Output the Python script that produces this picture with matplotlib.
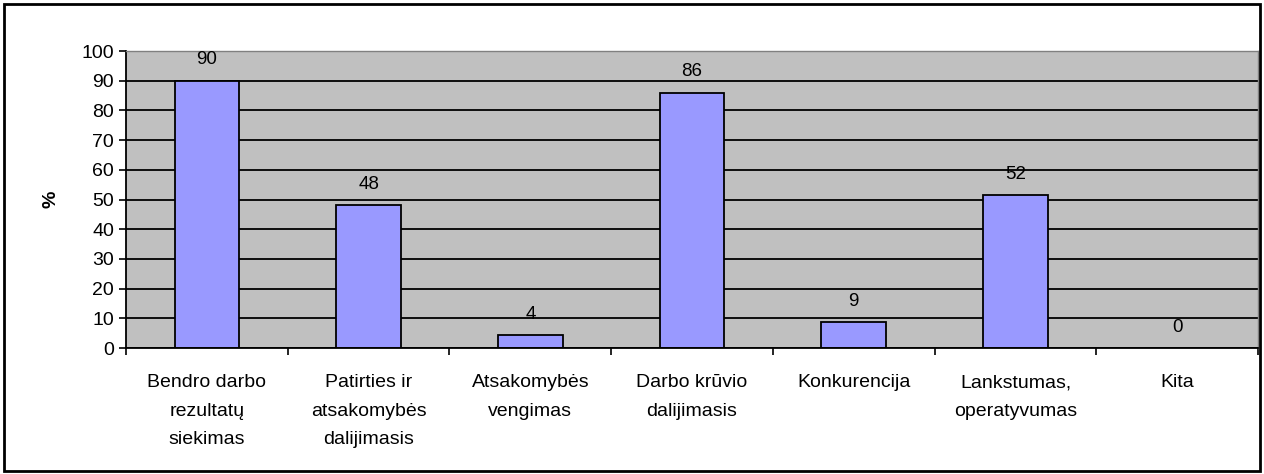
import matplotlib.pyplot as plt
import numpy as np
from matplotlib.patches import Rectangle

plt.rcParams['font.family'] = ['Liberation Sans', 'DejaVu Sans']

# categories and values
categories = ["Bendro darbo\nrezultatų\nsiekimas",
              "Patirties ir\natsakomybės\ndalijimasis",
              "Atsakomybės\nvengimas",
              "Darbo krūvio\ndalijimasis",
              "Konkurencija",
              "Lankstumas,\noperatyvumas",
              "Kita"]
values = [90, 48, 4.4, 86, 8.6, 51.5, 0]
yticks = list(range(0, 101, 10))

fig = plt.figure(figsize=(12.64, 4.74), dpi=100)
ax = fig.add_axes([0.0997, 0.2658, 0.8956, 0.6266])

# outer chart border
fig.add_artist(Rectangle((0.003, 0.006), 0.994, 0.985, transform=fig.transFigure,
                         fill=False, edgecolor='black', linewidth=2))

x = np.arange(len(categories))
ax.set_facecolor('#C0C0C0')
ax.set_axisbelow(True)
ax.yaxis.grid(True, color='black', linewidth=1.3)
bars = ax.bar(x, values, width=0.4, color='#9999FF', edgecolor='black', linewidth=1.3)

# value labels above bars
for xi, v in zip(x, values):
    ax.annotate("%.0f" % v, (xi, v), xytext=(0, 15), textcoords='offset points',
                ha='center', va='center', fontsize=13.5)

ax.set_xlim(-0.5, len(categories) - 0.5)
ax.set_ylim(0, 100)
ax.set_yticks(yticks)
ax.tick_params(axis='y', labelsize=14, length=5, width=1.2, direction='out')

ax.set_xticks(x)
ax.set_xticklabels(categories, fontsize=14, linespacing=1.88)
ax.tick_params(axis='x', which='major', length=0, pad=19)
ax.set_xticks(np.arange(-0.5, len(categories), 1), minor=True)
ax.tick_params(axis='x', which='minor', length=5, width=1.2, direction='out')

for side in ['left', 'bottom']:
    ax.spines[side].set_color('black')
    ax.spines[side].set_linewidth(1.3)
for side in ['top', 'right']:
    ax.spines[side].set_color('#808080')
    ax.spines[side].set_linewidth(1)

ax.set_ylabel("%", fontsize=14, fontweight='bold', labelpad=16)

fig.savefig("out.png", dpi=100)
